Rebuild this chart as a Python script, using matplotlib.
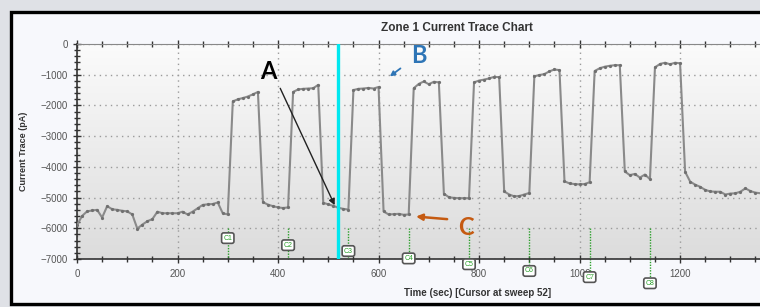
import numpy as np
import matplotlib
matplotlib.use("Agg")
import matplotlib.pyplot as plt
from matplotlib.patches import Rectangle
from matplotlib.ticker import MultipleLocator

# sweep every 10 s
times = np.arange(0, 1370, 10)
trace = [
    -5900, -5600, -5450, -5420, -5400, -5650, -5280, -5380, -5400, -5430,
    -5450, -5550, -6010, -5880, -5770, -5700, -5460, -5510, -5510, -5510,
    -5510, -5460, -5550, -5460, -5350, -5240, -5220, -5210, -5160, -5510,
    -5550,
    -1870, -1800, -1760, -1710, -1640, -1560,
    -5150, -5230, -5280, -5320, -5340, -5320,
    -1560, -1480, -1460, -1450, -1440, -1330,
    -5170, -5220, -5270, -5330, -5370, -5390,
    -1500, -1460, -1450, -1430, -1450, -1400,
    -5450, -5550, -5540, -5530, -5560, -5550,
    -1440, -1300, -1220, -1310, -1230, -1250,
    -4870, -4990, -5010, -5020, -5020, -5020,
    -1250, -1190, -1160, -1120, -1070, -1080,
    -4800, -4900, -4960, -4950, -4900, -4850,
    -1050, -1010, -980, -890, -830, -850,
    -4470, -4540, -4560, -4570, -4560, -4500,
    -880, -790, -740, -710, -690, -690,
    -4150, -4270, -4230, -4350, -4250, -4400,
    -760, -650, -610, -660, -610, -630,
    -4160, -4480, -4580, -4650, -4750, -4800, -4810, -4810, -4900, -4870,
    -4860, -4810, -4700, -4790, -4840, -4860,
]

cursor_time = 520
marker_names = ["C1", "C2", "C3", "C4", "C5", "C6", "C7", "C8"]
marker_times = [300, 420, 540, 660, 780, 900, 1020, 1140]
marker_label_y = [-6320, -6550, -6740, -6980, -7170, -7390, -7590, -7790]

title = "Zone 1 Current Trace Chart"
xlabel = "Time (sec) [Cursor at sweep 52]"
ylabel = "Current Trace (pA)"

plt.rcParams['font.family'] = ['Liberation Sans', 'DejaVu Sans']

fig = plt.figure(figsize=(7.6, 3.07), dpi=100)
fig.patch.set_facecolor("#dfe1e6")

# panel with black frame
panel = Rectangle((11 / 760, 3.5 / 307), 1.2, (307 - 15) / 307, transform=fig.transFigure,
                  facecolor="#f7f8fc", edgecolor="black", linewidth=2.4, zorder=-10)
fig.patches.append(panel)

ax = fig.add_axes([77 / 760, 48 / 307, 1 - 77 / 760, (259 - 44) / 307])
ax.set_xlim(0, 1359)
ax.set_ylim(-7000, 0)

# gradient plot background
grad = np.linspace(0, 1, 256).reshape(-1, 1)
ax.imshow(grad, extent=[0, 1, 0, 1], transform=ax.transAxes, aspect="auto",
          cmap=matplotlib.colors.LinearSegmentedColormap.from_list("bg", ["#dcdcdc", "#fbfbfb"]),
          origin="lower", zorder=0)

ax.grid(True, which="major", color="#9a9a9a", linestyle=(0, (1, 3)), linewidth=1.0, zorder=1)
ax.xaxis.set_major_locator(MultipleLocator(200))
ax.xaxis.set_minor_locator(MultipleLocator(50))
ax.yaxis.set_major_locator(MultipleLocator(1000))
ax.yaxis.set_minor_locator(MultipleLocator(200))
ax.tick_params(which="both", direction="inout", top=True, colors="#333333",
               labelcolor="#555555", labelsize=7)
ax.tick_params(which="major", length=6, width=1.0)
ax.tick_params(which="minor", length=4, width=1.0)
ax.tick_params(axis="x", pad=4)
for s in ["left", "bottom"]:
    ax.spines[s].set_color("#333333")
    ax.spines[s].set_linewidth(1.2)
ax.spines["top"].set_color("#888888")
ax.spines["right"].set_visible(False)

# cursor markers
for name, t, ly in zip(marker_names, marker_times, marker_label_y):
    ax.plot([t, t], [-6000, min(ly, -7000)], color="#2ca02c", linestyle=(0, (1, 1)),
            linewidth=1.0, clip_on=False, zorder=2)
    ax.text(t, ly, name, fontsize=5, color="#2ca02c", ha="center", va="center", clip_on=False,
            zorder=6, bbox=dict(boxstyle="round,pad=0.25,rounding_size=0.3", fc="white",
                                ec="#555555", lw=1.2))

ax.plot(times, trace, color="#8a8a8a", linewidth=1.5, marker="o", markersize=1.3,
        markerfacecolor="#707070", markeredgecolor="#707070", zorder=3)

ax.axvline(cursor_time, color="#00e8f0", linewidth=2.4, zorder=4)

# labels
fig.text(457 / 760, 1 - 28 / 307, title, fontsize=8.5, fontweight="bold", color="#333333",
         ha="center", va="center")
fig.text(478 / 760, 1 - 293 / 307, xlabel, fontsize=7, fontweight="bold", color="#333333",
         ha="center", va="center")
fig.text(24 / 760, 1 - 151 / 307, ylabel, fontsize=6.5, fontweight="bold", color="#333333",
         ha="center", va="center", rotation=90)

# annotations A, B, C
ax.text(380, -900, "A", fontsize=17, fontweight="bold", color="black", ha="center",
        va="center", family=["Lato", "DejaVu Sans"], zorder=7)
ax.annotate("", xy=(515, -5330), xytext=(402, -1360),
            arrowprops=dict(arrowstyle="-|>", color="#222222", lw=1.0, mutation_scale=9), zorder=7)
ax.text(680, -360, "B", fontsize=17, fontweight="bold", color="#2e75b6", ha="center",
        va="center", family=["Lato", "DejaVu Sans"], zorder=7)
ax.annotate("", xy=(618, -1110), xytext=(648, -740),
            arrowprops=dict(arrowstyle="-|>", color="#2e75b6", lw=1.3, mutation_scale=7), zorder=7)
ax.text(774, -5970, "C", fontsize=17, fontweight="bold", color="#c55a11", ha="center",
        va="center", family=["Lato", "DejaVu Sans"], zorder=7)
ax.annotate("", xy=(669, -5610), xytext=(742, -5710),
            arrowprops=dict(arrowstyle="-|>", color="#c55a11", lw=1.8, mutation_scale=9), zorder=7)

fig.savefig("out.png", dpi=100, facecolor=fig.get_facecolor())
